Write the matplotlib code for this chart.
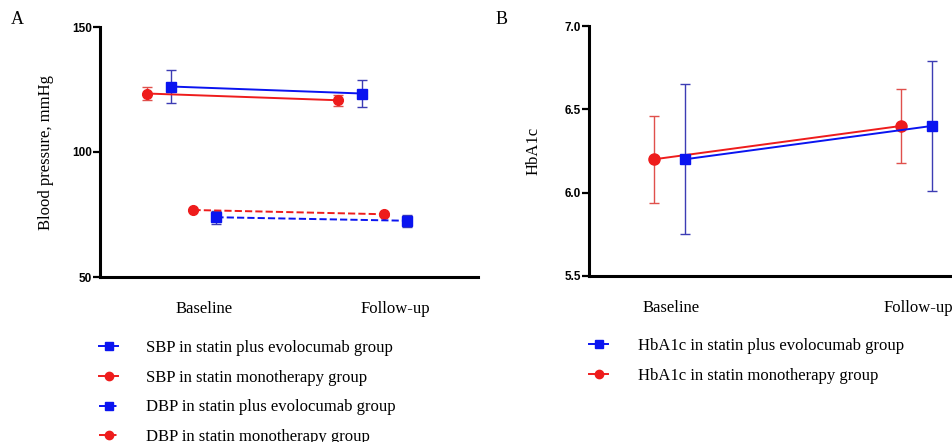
import matplotlib
matplotlib.use('Agg')
import matplotlib.pyplot as plt
from matplotlib.lines import Line2D

# data (mean, error half-width)
visits = ['Baseline', 'Follow-up']

sbp_evo = [126.2, 123.4]
sbp_evo_err = [6.7, 5.3]
sbp_mono = [123.4, 120.7]
sbp_mono_err = [2.7, 2.3]
dbp_evo = [73.9, 72.5]
dbp_evo_err = [2.6, 2.4]
dbp_mono = [76.8, 75.1]
dbp_mono_err = [0.5, 0.5]

hba1c_evo = [6.2, 6.4]
hba1c_evo_err = [0.45, 0.39]
hba1c_mono = [6.2, 6.4]
hba1c_mono_err = [0.26, 0.22]

labels_a = ['SBP in statin plus evolocumab group',
            'SBP in statin monotherapy group',
            'DBP in statin plus evolocumab group',
            'DBP in statin monotherapy group']
labels_b = ['HbA1c in statin plus evolocumab group',
            'HbA1c in statin monotherapy group']

BLUE = '#0a14f0'
RED = '#ee1c1c'
EBLUE = '#3c3cb4'
ERED = '#e0504c'
serif = ['Liberation Serif', 'DejaVu Serif']
sans = ['Liberation Sans', 'DejaVu Sans']


def series(ax, x, y, err, style, color, ecolor, marker, ms):
    ax.errorbar(x, y, yerr=err, fmt='none', ecolor=ecolor, elinewidth=1.0,
                capsize=3.5, capthick=1.0, zorder=2)
    ax.plot(x, y, linestyle=style, color=color, lw=1.4, marker=marker,
            markersize=ms, markerfacecolor=color, markeredgecolor=color, zorder=3)


def style_axis(ax, yticks, fmt):
    for s in ['top', 'right']:
        ax.spines[s].set_visible(False)
    for s in ['left', 'bottom']:
        ax.spines[s].set_linewidth(2.2)
    ax.set_yticks(yticks)
    ax.set_yticklabels([fmt % v for v in yticks], fontfamily=sans,
                       fontweight='bold', fontsize=8.5)
    ax.tick_params(axis='y', length=5, width=1.6, pad=1)
    ax.tick_params(axis='x', length=0, pad=17)
    ax.set_xticks([1, 2])
    ax.set_xticklabels(visits, fontfamily=serif, fontsize=12)


fig = plt.figure(figsize=(9.53, 4.42), dpi=100)

# panel A
ax1 = fig.add_axes([100/953, 1-277/442, 378/953, 250/442])
x0 = [1, 2]
series(ax1, [v-0.30 for v in x0], sbp_mono, sbp_mono_err, '-', RED, ERED, 'o', 7)
series(ax1, [v-0.175 for v in x0], sbp_evo, sbp_evo_err, '-', BLUE, EBLUE, 's', 7)
series(ax1, [v-0.055 for v in x0], dbp_mono, dbp_mono_err, '--', RED, ERED, 'o', 7)
series(ax1, [v+0.065 for v in x0], dbp_evo, dbp_evo_err, '--', BLUE, EBLUE, 's', 7)
ax1.set_xlim(0.4555, 2.4346)
ax1.set_ylim(50, 150)
style_axis(ax1, [50, 100, 150], '%d')
ax1.set_ylabel('Blood pressure, mmHg', fontfamily=serif, fontsize=12, labelpad=13)
fig.text(17/953, 1-20/442, 'A', fontfamily=serif, fontsize=13, va='center', ha='center')

# panel B
ax2 = fig.add_axes([589/953, 1-276/442, 364/953, 250/442])
series(ax2, [v-0.07 for v in x0], hba1c_mono, hba1c_mono_err, '-', RED, ERED, 'o', 8)
series(ax2, [v+0.055 for v in x0], hba1c_evo, hba1c_evo_err, '-', BLUE, EBLUE, 's', 7)
ax2.set_xlim(0.668, 2.142)
ax2.set_ylim(5.5, 7.0)
style_axis(ax2, [5.5, 6.0, 6.5, 7.0], '%.1f')
ax2.set_ylabel('HbA1c', fontfamily=serif, fontsize=12, labelpad=16)
fig.text(502/953, 1-20/442, 'B', fontfamily=serif, fontsize=13, va='center', ha='center')

# legends
h_a = [Line2D([], [], color=BLUE, marker='s', ms=6, lw=1.4, ls='-'),
       Line2D([], [], color=RED, marker='o', ms=6, lw=1.4, ls='-'),
       Line2D([], [], color=BLUE, marker='s', ms=6, lw=1.4, ls='--'),
       Line2D([], [], color=RED, marker='o', ms=6, lw=1.4, ls='--')]
fig.legend(h_a, labels_a, loc='upper left', bbox_to_anchor=(99/953, 1-340/442),
           frameon=False, prop={'family': serif, 'size': 12}, handlelength=1.15,
           handletextpad=1.7, labelspacing=0.82, borderaxespad=0, borderpad=0)
h_b = [Line2D([], [], color=BLUE, marker='s', ms=6, lw=1.4, ls='-'),
       Line2D([], [], color=RED, marker='o', ms=6, lw=1.4, ls='-')]
fig.legend(h_b, labels_b, loc='upper left', bbox_to_anchor=(589/953, 1-338/442),
           frameon=False, prop={'family': serif, 'size': 12}, handlelength=1.15,
           handletextpad=1.8, labelspacing=0.82, borderaxespad=0, borderpad=0)

fig.savefig('out.png', dpi=100)
